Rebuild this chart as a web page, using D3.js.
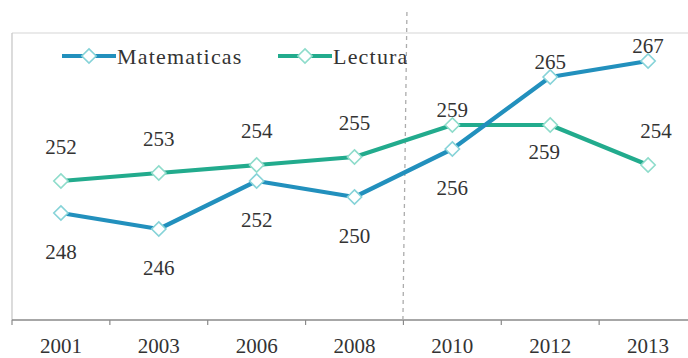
<!DOCTYPE html>
<html>
<head>
<meta charset="utf-8">
<script src="https://cdn.jsdelivr.net/npm/d3@7"></script>
<style>
  html, body { margin: 0; padding: 0; background: #fff; }
  svg { display: block; }
</style>
</head>
<body>
<svg id="chart" width="688" height="358"></svg>
<script>
// Survey years and average scores per subject
const years = ["2001", "2003", "2006", "2008", "2010", "2012", "2013"];
const matematicas = [248, 246, 252, 250, 256, 265, 267];
const lectura = [252, 253, 254, 255, 259, 259, 254];
const seriesNames = ["Matematicas", "Lectura"];

// Where each value label sits relative to its marker
const matLabelSide = ["below", "below", "below", "below", "below", "aboveNear", "aboveNear"];
const lecLabelSide = ["above", "above", "above", "above", "aboveNear", "belowNear", "above"];
const lecLabelShift = [0, 0, 0, 0, 0, -6, 8];

const W = 688, H = 358;
const plot = { left: 12, right: 697, top: 33, bottom: 320 };
const FONT = "'Liberation Serif', Tinos, 'Times New Roman', 'DejaVu Serif', 'Noto Serif', serif";

const svg = d3.select("#chart")
  .attr("font-family", FONT);

const x = d3.scaleBand().domain(years).range([plot.left, plot.right]).paddingInner(0).paddingOuter(0);
const y = d3.scaleLinear().domain([235, 270]).range([317, 37]);
const cx = d => x(d) + x.bandwidth() / 2;

const colors = { Matematicas: "#2290bd", Lectura: "#22ab8d" };
const markerStroke = { Matematicas: "#86d3d8", Lectura: "#8edccb" };
const textColor = "#333";

// Plot frame: light top border, left edge line
svg.append("line")
  .attr("x1", plot.left).attr("x2", W).attr("y1", plot.top).attr("y2", plot.top)
  .attr("stroke", "#d6d6d6").attr("stroke-width", 1.2);
svg.append("line")
  .attr("x1", plot.left).attr("x2", plot.left).attr("y1", plot.top).attr("y2", plot.bottom)
  .attr("stroke", "#c4c4c4").attr("stroke-width", 1.2);

// Category axis along the bottom: ticks between categories, labels centred
const axisG = svg.append("g").attr("transform", `translate(0,${plot.bottom})`);
axisG.append("line")
  .attr("x1", plot.left).attr("x2", W).attr("y1", 0).attr("y2", 0)
  .attr("stroke", "#8a8a8a").attr("stroke-width", 1.5);
axisG.selectAll("line.tick")
  .data(years.map((d, i) => i))
  .join("line")
  .attr("class", "tick")
  .attr("x1", i => plot.left + x.step() * i)
  .attr("x2", i => plot.left + x.step() * i)
  .attr("y1", 0).attr("y2", 5)
  .attr("stroke", "#8a8a8a").attr("stroke-width", 1.2);
axisG.selectAll("text.year")
  .data(years)
  .join("text")
  .attr("class", "year")
  .attr("x", d => cx(d))
  .attr("y", 33)
  .attr("text-anchor", "middle")
  .attr("font-size", 21)
  .attr("fill", textColor)
  .text(d => d);

// Dashed divider between 2008 and 2010
svg.append("line")
  .attr("x1", x("2010") + 3.5).attr("x2", x("2010") - 0.5)
  .attr("y1", 12).attr("y2", plot.bottom)
  .attr("stroke", "#acacac").attr("stroke-width", 1.3)
  .attr("stroke-dasharray", "4,4");

const line = d3.line().x((d, i) => cx(years[i])).y(d => y(d));
const diamond = d3.symbol().type(d3.symbolDiamond2).size(130);

const series = [
  { name: "Matematicas", values: matematicas, sides: matLabelSide, shift: matematicas.map(() => 0) },
  { name: "Lectura", values: lectura, sides: lecLabelSide, shift: lecLabelShift }
];

const labelOffset = { above: -27, aboveNear: -8, below: 46, belowNear: 34 };

series.slice().reverse().forEach(s => {
  svg.append("path")
    .datum(s.values)
    .attr("d", line)
    .attr("fill", "none")
    .attr("stroke", colors[s.name])
    .attr("stroke-width", 4.2)
    .attr("stroke-linejoin", "round");
});

series.forEach(s => {
  svg.selectAll(null)
    .data(s.values)
    .join("path")
    .attr("transform", (d, i) => `translate(${cx(years[i])},${y(d)})`)
    .attr("d", diamond)
    .attr("fill", "#fff")
    .attr("stroke", markerStroke[s.name])
    .attr("stroke-width", 1.6);

  svg.selectAll(null)
    .data(s.values)
    .join("text")
    .attr("x", (d, i) => cx(years[i]) + s.shift[i])
    .attr("y", (d, i) => y(d) + labelOffset[s.sides[i]])
    .attr("text-anchor", "middle")
    .attr("font-size", 21)
    .attr("fill", textColor)
    .text(d => d);
});

// Legend
const legendPos = [62, 278];
seriesNames.forEach((name, i) => {
  const g = svg.append("g").attr("transform", `translate(${legendPos[i]},56)`);
  g.append("line").attr("x1", 0).attr("x2", 54).attr("y1", 0).attr("y2", 0)
    .attr("stroke", colors[name]).attr("stroke-width", 4.2);
  g.append("path").attr("transform", "translate(27,0)").attr("d", diamond)
    .attr("fill", "#fff").attr("stroke", markerStroke[name]).attr("stroke-width", 1.6);
  g.append("text").attr("x", 55).attr("y", 8).attr("font-size", 22)
    .attr("letter-spacing", 1.2)
    .attr("fill", textColor).text(name);
});
</script>
</body>
</html>
